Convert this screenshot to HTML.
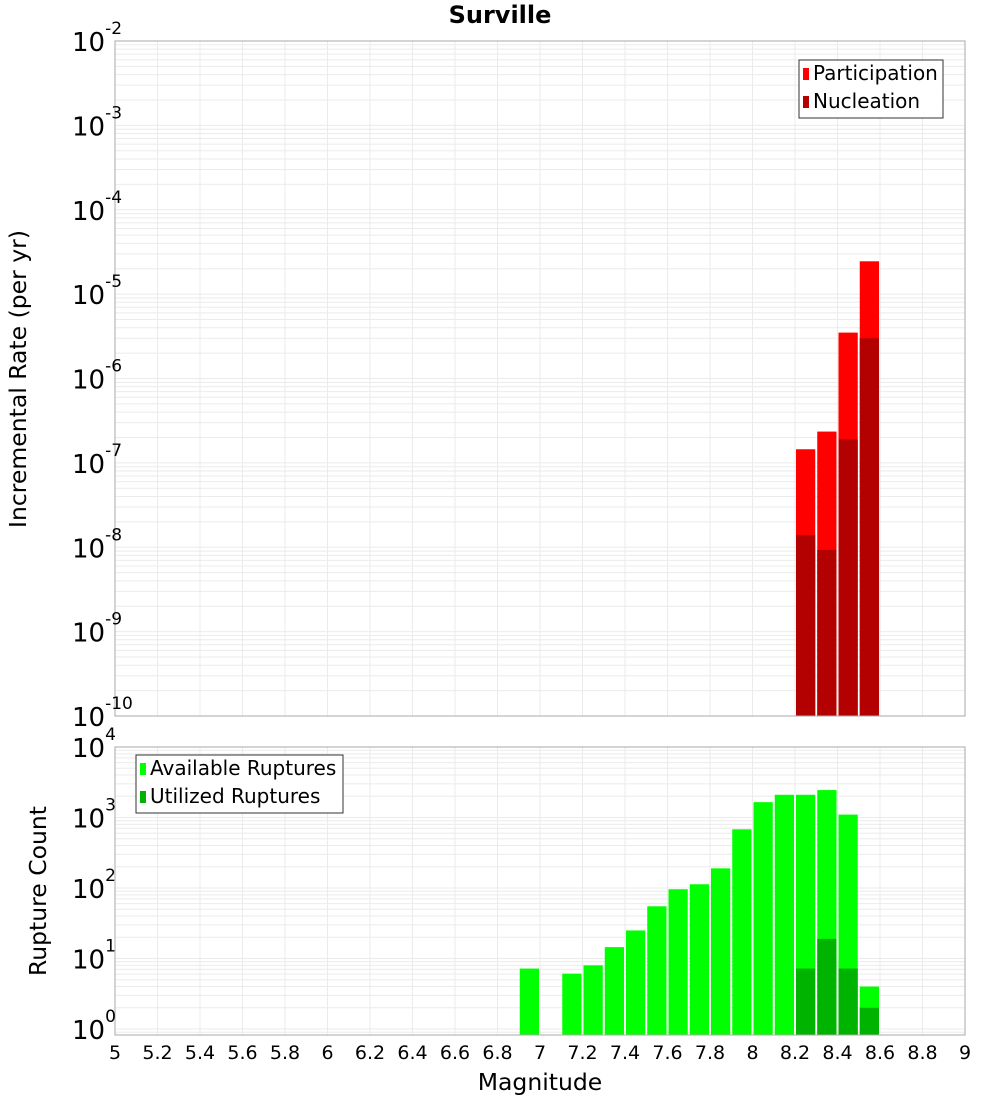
<!DOCTYPE html>
<html><head><meta charset="utf-8"><style>
body{margin:0;background:#fff;font-family:"Liberation Sans","DejaVu Sans",sans-serif}
svg text{font-family:"DejaVu Sans","Liberation Sans",sans-serif}
</style></head><body>
<svg id="c" width="1000" height="1100" xmlns="http://www.w3.org/2000/svg"></svg>
<script>
const xTicks=[5,5.2,5.4,5.6,5.8,6,6.2,6.4,6.6,6.8,7,7.2,7.4,7.6,7.8,8,8.2,8.4,8.6,8.8,9];
const rateMags=[8.2,8.3,8.4,8.5];
const participation=[1.45e-7,2.35e-7,3.5e-6,2.45e-5];
const nucleation=[1.4e-8,9.3e-9,1.9e-7,3.0e-6];
const countMags=[6.9,7.1,7.2,7.3,7.4,7.5,7.6,7.7,7.8,7.9,8.0,8.1,8.2,8.3,8.4,8.5];
const available=[7.2,6.1,8,14.5,25,55,96,113,190,680,1650,2100,2100,2450,1100,4];
const utilMags=[8.2,8.3,8.4,8.5];
const utilized=[7.2,19,7.2,2];
const topExps=[-10,-9,-8,-7,-6,-5,-4,-3,-2];
const botExps=[0,1,2,3,4];

const NS="http://www.w3.org/2000/svg";
const svg=document.getElementById('c');
function el(t,a,p){const e=document.createElementNS(NS,t);for(const k in a)e.setAttribute(k,a[k]);(p||svg).appendChild(e);return e;}
const X0=115,X1=965;
const xs=m=>X0+(m-5)/4*(X1-X0);
const T={top:41,bot:716,lo:-10,hi:-2};
const B={top:747,bot:1035,y0:1029,per:70.5};
const yT=v=>T.bot-(Math.log10(v)-T.lo)/(T.hi-T.lo)*(T.bot-T.top);
const yB=v=>B.y0-Math.log10(v)*B.per;

function grid(top,bot,yf,eLo,eHi,name){
  const g=el('g',{});
  
  
  for(const t of xTicks){const x=xs(t);el('line',{x1:x,x2:x,y1:top,y2:bot,stroke:'#ebebeb','stroke-width':1},g);}
  for(let e=eLo;e<=eHi;e++)for(let k=1;k<10;k++){const y=yf(k*Math.pow(10,e));if(y<top||y>bot)continue;el('line',{x1:X0,x2:X1,y1:y,y2:y,stroke:'#ebebeb','stroke-width':1},g);}
}
grid(T.top,T.bot,yT,-10,-3,'top-grid');
grid(B.top,B.bot,yB,-1,3,'bottom-grid');

const bw=(X1-X0)/40;
function bar(m,v,yf,bot,col,name){
  const y=yf(v);
  const r=el('rect',{x:xs(m)+1,y:y,width:bw-2,height:bot-y,fill:col});
  
  
}
rateMags.forEach((m,i)=>bar(m,participation[i],yT,T.bot,'#ff0000','participation-bar'));
rateMags.forEach((m,i)=>bar(m,nucleation[i],yT,T.bot,'#b30000','nucleation-bar'));
countMags.forEach((m,i)=>bar(m,available[i],yB,B.bot,'#00ff00','available-bar'));
utilMags.forEach((m,i)=>bar(m,utilized[i],yB,B.bot,'#00b300','utilized-bar'));

el('rect',{x:X0,y:T.top,width:X1-X0,height:T.bot-T.top,fill:'none',stroke:'#aaa'});
el('rect',{x:X0,y:B.top,width:X1-X0,height:B.bot-B.top,fill:'none',stroke:'#aaa'});

function ylab(e,y,name){
  const t=el('text',{x:72,y:y+10,'font-size':26,fill:'#000'});
  
  
  const a=el('tspan',{},t);a.textContent='10';
  const b=el('tspan',{dy:-17,'font-size':17},t);b.textContent=String(e);
}
topExps.forEach(e=>ylab(e,yT(Math.pow(10,e)),'top-y-tick'));
botExps.forEach(e=>ylab(e,yB(Math.pow(10,e)),'bottom-y-tick'));
xTicks.forEach(t=>{const e=el('text',{x:xs(t),y:1059,'text-anchor':'middle','font-size':19,fill:'#000'});e.textContent=String(t);
  
  });

function txt(s,a,name){const e=el('text',a);e.textContent=s;return e;}
txt('Surville',{x:500,y:23,'text-anchor':'middle','font-size':24,'font-weight':'bold'},'chart-title');
txt('Magnitude',{x:540,y:1090,'text-anchor':'middle','font-size':23.5},'x-axis-title');
txt('Incremental Rate (per yr)',{x:0,y:0,'text-anchor':'middle','font-size':23.5,transform:'translate(26,379) rotate(-90)'},'top-y-axis-title');
txt('Rupture Count',{x:0,y:0,'text-anchor':'middle','font-size':23.5,transform:'translate(46,891) rotate(-90)'},'bottom-y-axis-title');

function legend(x,y,w,items,name){
  const g=el('g',{});
  
  
  el('rect',{x:x,y:y,width:w,height:58,fill:'#fff',stroke:'#333'},g);
  items.forEach((it,i)=>{el('rect',{x:x+4,y:y+8+i*28,width:6,height:12,fill:it[1]},g);
    const t=el('text',{x:x+14,y:y+20+i*28,'font-size':20},g);t.textContent=it[0];});
}
legend(799,60,144,[['Participation','#ff0000'],['Nucleation','#b30000']],'top-legend');
legend(136,755,207,[['Available Ruptures','#00ff00'],['Utilized Ruptures','#00b300']],'bottom-legend');
</script>
</body></html>
